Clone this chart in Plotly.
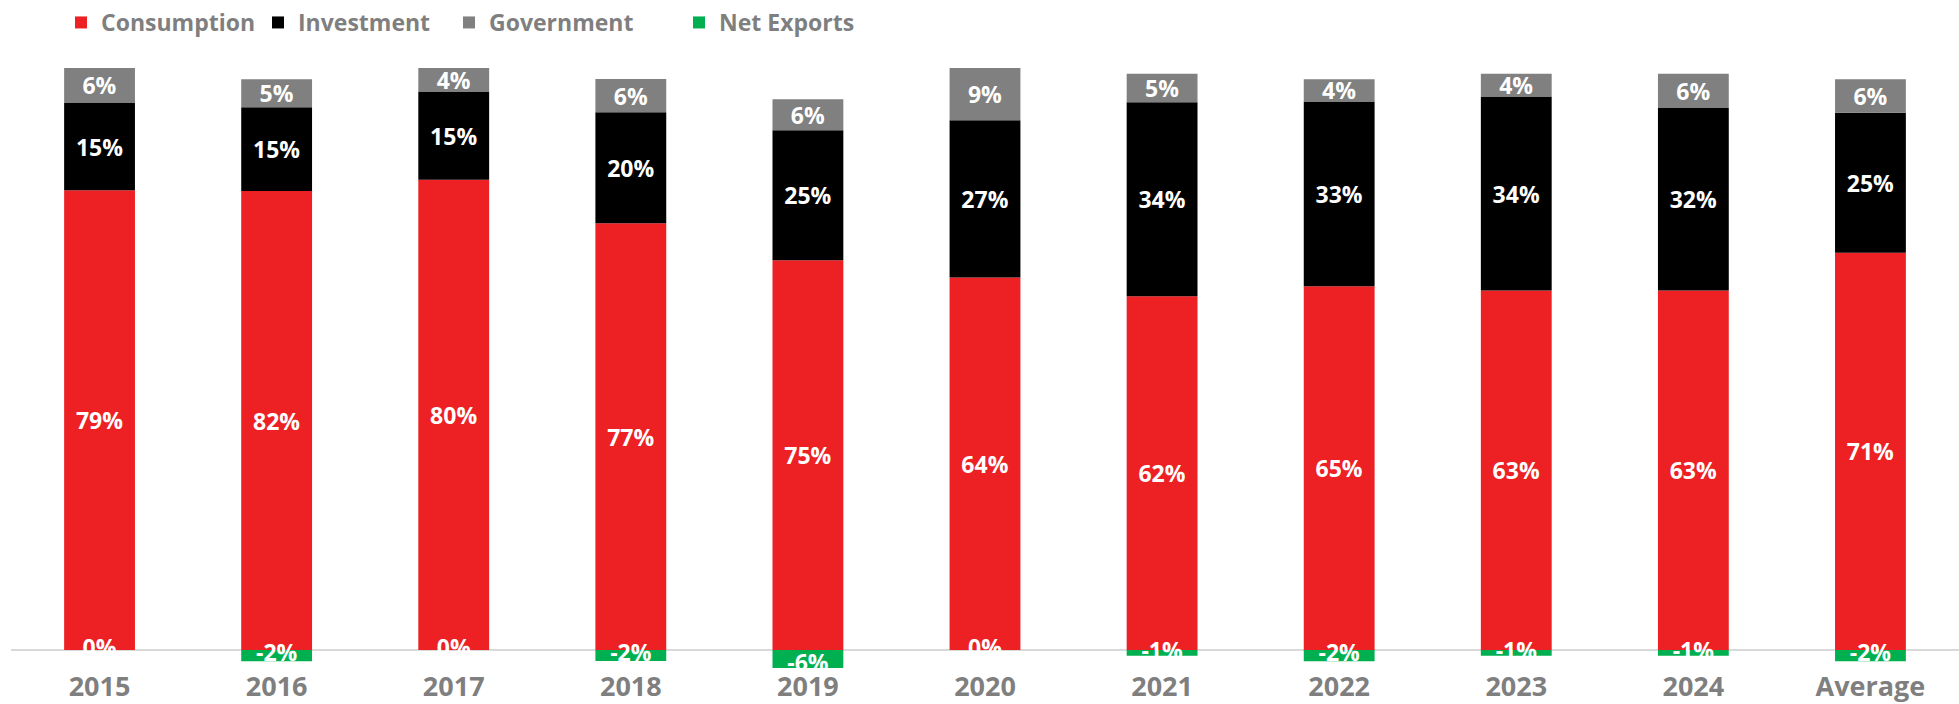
import plotly.graph_objects as go

# Contribution to GDP growth by component (% share), with the period average
categories = ["2015", "2016", "2017", "2018", "2019", "2020",
              "2021", "2022", "2023", "2024", "Average"]
consumption = [79, 82, 80, 77, 75, 64, 62, 65, 63, 63, 71]
investment = [15, 15, 15, 20, 25, 27, 34, 33, 34, 32, 25]
government = [6, 5, 4, 6, 6, 9, 5, 4, 4, 6, 6]
net_exports = [0, -2, 0, -2, -6, 0, -1, -2, -1, -1, -2]

series = [
    ("Consumption", consumption, "#ED2024"),
    ("Investment", investment, "#000000"),
    ("Government", government, "#808080"),
    ("Net Exports", net_exports, "#00B050"),
]

# 100% stacked columns: each component is scaled by the column's total absolute size
totals = [sum(abs(s[1][i]) for s in series) for i in range(len(categories))]


def share(values):
    return [v / t * 100 for v, t in zip(values, totals)]


FONT = "Open Sans"
legend_widths = {"Consumption": 152, "Investment": 146, "Government": 185, "Net Exports": 175}

fig = go.Figure()
for name, values, color in series:
    is_net = name == "Net Exports"
    fig.add_trace(go.Bar(
        name=name,
        x=categories,
        y=share(values),
        marker=dict(color=color, line=dict(width=0)),
        text=None if is_net else [f"{v}%" for v in values],
        textposition="inside",
        insidetextanchor="middle",
        textangle=0,
        constraintext="none",
        textfont=dict(family=FONT, size=23, color="white", weight=700),
        cliponaxis=False,
        legendwidth=legend_widths[name],
        hovertemplate="%{x}<br>" + name + ": %{text}<extra></extra>",
    ))

# Net export labels sit centred on their (small or empty) segments, above the bars
net_share = share(net_exports)
fig.add_trace(go.Scatter(
    x=categories,
    y=[v / 2 for v in net_share],
    mode="text",
    text=[f"{v}%" for v in net_exports],
    textposition="middle center",
    textfont=dict(family=FONT, size=23, color="white", weight=700),
    showlegend=False,
    hoverinfo="skip",
    cliponaxis=False,
))

fig.update_layout(
    width=1959,
    height=704,
    barmode="relative",
    bargap=0.6,
    plot_bgcolor="white",
    paper_bgcolor="white",
    margin=dict(l=11, r=0, t=60, b=36, autoexpand=False),
    showlegend=True,
    legend=dict(
        orientation="h",
        xref="container",
        yref="container",
        x=61 / 1959,
        y=1 - 22.5 / 704,
        xanchor="left",
        yanchor="middle",
        font=dict(family=FONT, size=23, color="#7F7F7F", weight=700),
        bgcolor="rgba(0,0,0,0)",
        borderwidth=0,
    ),
    xaxis=dict(
        type="category",
        range=[-0.5, len(categories) - 0.5],
        automargin=False,
        showgrid=False,
        showline=False,
        ticks="",
        tickfont=dict(family=FONT, size=27, color="#7F7F7F", weight=700),
        layer="below traces",
        fixedrange=True,
    ),
    yaxis=dict(
        range=[-3.09, 101.37],
        automargin=False,
        showgrid=False,
        showticklabels=False,
        showline=False,
        zeroline=True,
        zerolinecolor="#D9D9D9",
        zerolinewidth=2,
        fixedrange=True,
    ),
)

fig.write_html("out.html")
